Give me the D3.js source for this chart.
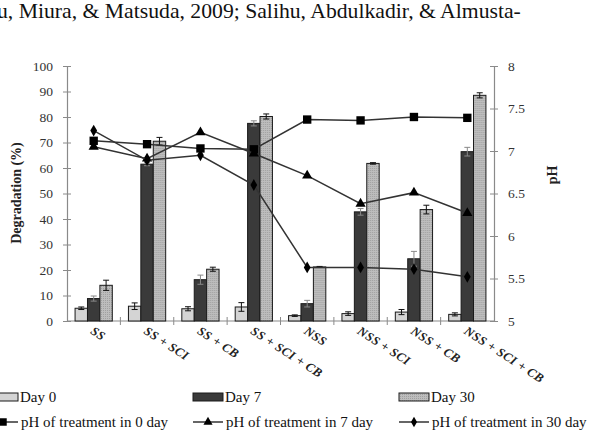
<!DOCTYPE html>
<html>
<head>
<meta charset="utf-8">
<script src="https://cdn.jsdelivr.net/npm/d3@7.9.0/dist/d3.min.js"></script>
<style>
  html, body { margin: 0; padding: 0; background: #fff; }
  svg { display: block; font-family: 'Liberation Serif', 'Times New Roman', serif; }
</style>
</head>
<body>
<svg id="chart" width="589" height="436"></svg>
<script>
// ====== DATA ======

const categories = ['SS', 'SS + SCI', 'SS + CB', 'SS + SCI + CB', 'NSS', 'NSS + SCI', 'NSS + CB', 'NSS + SCI + CB'];

// degradation (%) per day, with error
const day0 = [5.0, 5.8, 4.8, 5.5, 2.1, 2.9, 3.5, 2.6];
const day0Err = [0.5, 1.3, 0.8, 1.7, 0.3, 0.7, 1.0, 0.6];
const day7 = [8.8, 61.5, 16.2, 77.5, 6.8, 42.8, 24.4, 66.4];
const day7Err = [1.0, 0.6, 1.8, 1.0, 1.3, 1.3, 2.9, 1.7];
const day30 = [14.0, 70.5, 20.3, 80.2, 21.2, 61.8, 43.7, 88.5];
const day30Err = [2.0, 1.5, 0.8, 1.0, 0.2, 0.3, 1.7, 1.0];

// pH (right axis)
const ph0 = [7.12, 7.08, 7.03, 7.02, 7.37, 7.36, 7.40, 7.39];
const ph7 = [7.05, 6.91, 7.22, 6.97, 6.71, 6.38, 6.51, 6.27];
const ph30 = [7.24, 6.89, 6.95, 6.60, 5.63, 5.63, 5.61, 5.52];

const degTicks = [0, 10, 20, 30, 40, 50, 60, 70, 80, 90, 100];
const phTicks = [5, 5.5, 6, 6.5, 7, 7.5, 8];

// ====== LAYOUT ======

const svg = d3.select('#chart');
const plotLeft = 67, plotRight = 494, plotTop = 66, plotBottom = 321;
const axisColor = '#8a8a8a';

const x = d3.scaleBand().domain(categories).range([plotLeft, plotRight]);
const inner = d3.scaleBand().domain(['d0', 'd7', 'd30']).range([0, x.bandwidth()]).paddingOuter(0.65);
const y = d3.scaleLinear().domain([0, 100]).range([plotBottom, plotTop]);
const yR = d3.scaleLinear().domain([5, 8]).range([plotBottom, plotTop]);

const series = [
  { key: 'd0', label: 'Day 0', values: day0, err: day0Err, fill: '#d4d4d4' },
  { key: 'd7', label: 'Day 7', values: day7, err: day7Err, fill: '#3a3a3a' },
  { key: 'd30', label: 'Day 30', values: day30, err: day30Err, fill: '#b4b4b4' },
];

const phSeries = [
  { label: 'pH of treatment in 0 day', values: ph0, symbol: d3.symbolSquare, size: 70 },
  { label: 'pH of treatment in 7 day', values: ph7, symbol: d3.symbolTriangle, size: 45 },
  { label: 'pH of treatment in 30 day', values: ph30, symbol: d3.symbolDiamond, size: 40 },
];

// top text line (from the page the figure sits in)
svg.append('text')
  .attr('x', -3)
  .attr('y', 18)
  .attr('font-size', 21.7)
  .attr('fill', '#111')
  .text('u, Miura, & Matsuda, 2009; Salihu, Abdulkadir, & Almusta-');

// dotted texture for the Day 30 bars
const defs = svg.append('defs');
const pat = defs.append('pattern')
  .attr('id', 'dots')
  .attr('width', 2)
  .attr('height', 2)
  .attr('patternUnits', 'userSpaceOnUse');
pat.append('rect').attr('width', 2).attr('height', 2).attr('fill', '#bdbdbd');
pat.append('rect').attr('width', 1).attr('height', 1).attr('fill', '#a0a0a0');

// ====== AXES ======

const gLeft = svg.append('g')
  .attr('transform', `translate(${plotLeft},0)`)
  .call(d3.axisLeft(y).tickValues(degTicks).tickSize(4).tickPadding(10));

const gRight = svg.append('g')
  .attr('transform', `translate(${plotRight},0)`)
  .call(d3.axisRight(yR).tickValues(phTicks).tickSize(4).tickPadding(10).tickFormat(d3.format('')));

[gLeft, gRight].forEach((g) => {
  g.select('.domain').attr('stroke', axisColor).attr('stroke-width', 1.2);
  g.selectAll('.tick line').attr('stroke', axisColor).attr('x1', -4).attr('x2', 4);
  g.selectAll('.tick text')
    .attr('font-family', "'Liberation Serif', serif")
    .attr('font-size', 13.5)
    .attr('fill', '#333');
});

// x axis: baseline + ticks between categories
const gX = svg.append('g');
gX.append('line')
  .attr('x1', plotLeft).attr('x2', plotRight)
  .attr('y1', plotBottom).attr('y2', plotBottom)
  .attr('stroke', axisColor).attr('stroke-width', 1.2);

gX.selectAll('.xtick')
  .data(categories.slice(1))
  .join('line')
  .attr('class', 'xtick')
  .attr('x1', (d) => x(d)).attr('x2', (d) => x(d))
  .attr('y1', plotBottom - 4).attr('y2', plotBottom + 4)
  .attr('stroke', axisColor);

gX.selectAll('.xlabel')
  .data(categories)
  .join('text')
  .attr('class', 'xlabel')
  .attr('transform', (d) => `translate(${x(d) + x.bandwidth() / 2 - 4},${plotBottom + 12}) rotate(33)`)
  .attr('font-size', 12.5)
  .attr('letter-spacing', 0.4)
  .attr('font-weight', 'bold')
  .attr('font-style', 'italic')
  .attr('fill', '#222')
  .text((d) => d);

// axis titles
svg.append('text')
  .attr('transform', `translate(21,193) rotate(-90)`)
  .attr('text-anchor', 'middle')
  .attr('font-size', 14)
  .attr('font-weight', 'bold')
  .attr('fill', '#222')
  .text('Degradation (%)');

svg.append('text')
  .attr('transform', `translate(557,175) rotate(-90)`)
  .attr('text-anchor', 'middle')
  .attr('font-size', 14)
  .attr('font-weight', 'bold')
  .attr('fill', '#222')
  .text('pH');

// ====== BARS ======

const groups = svg.append('g')
  .selectAll('g')
  .data(categories)
  .join('g')
  .attr('transform', (d) => `translate(${x(d)},0)`);

series.forEach((s) => {
  groups.append('rect')
    .attr('x', inner(s.key))
    .attr('width', inner.bandwidth())
    .attr('y', (d, i) => y(s.values[i]))
    .attr('height', (d, i) => plotBottom - y(s.values[i]))
    .attr('fill', s.key === 'd30' ? 'url(#dots)' : s.fill)
    .attr('stroke', '#1a1a1a')
    .attr('stroke-width', 1);

  // error bars
  const cx = inner(s.key) + inner.bandwidth() / 2;
  const errColor = s.key === 'd7' ? '#888' : '#111';
  groups.append('line')
    .attr('x1', cx).attr('x2', cx)
    .attr('y1', (d, i) => y(s.values[i] - s.err[i]))
    .attr('y2', (d, i) => y(s.values[i] + s.err[i]))
    .attr('stroke', errColor);
  groups.append('line')
    .attr('x1', cx - 3).attr('x2', cx + 3)
    .attr('y1', (d, i) => y(s.values[i] + s.err[i]))
    .attr('y2', (d, i) => y(s.values[i] + s.err[i]))
    .attr('stroke', errColor);
  groups.append('line')
    .attr('x1', cx - 3).attr('x2', cx + 3)
    .attr('y1', (d, i) => y(s.values[i] - s.err[i]))
    .attr('y2', (d, i) => y(s.values[i] - s.err[i]))
    .attr('stroke', errColor);
});

// ====== pH LINES ======

const cxOf = (i) => x(categories[i]) + x.bandwidth() / 2;

phSeries.forEach((s) => {
  const line = d3.line()
    .x((d, i) => cxOf(i))
    .y((d) => yR(d));

  svg.append('path')
    .datum(s.values)
    .attr('d', line)
    .attr('fill', 'none')
    .attr('stroke', '#333')
    .attr('stroke-width', 1.5);

  svg.append('g')
    .selectAll('path')
    .data(s.values)
    .join('path')
    .attr('transform', (d, i) => `translate(${cxOf(i)},${yR(d)})`)
    .attr('d', d3.symbol(s.symbol, s.size))
    .attr('fill', '#000');
});

// ====== LEGEND ======

const legendCols = [-12, 193, 399];
const legend = svg.append('g')
  .attr('font-size', 15)
  .attr('fill', '#111');

series.forEach((s, i) => {
  const gx = legendCols[i];
  legend.append('rect')
    .attr('x', gx).attr('y', 393)
    .attr('width', 30).attr('height', 8)
    .attr('fill', s.key === 'd30' ? 'url(#dots)' : s.fill)
    .attr('stroke', '#1a1a1a');
  legend.append('text')
    .attr('x', gx + 32).attr('y', 402)
    .text(s.label);
});

phSeries.forEach((s, i) => {
  const gx = legendCols[i];
  legend.append('line')
    .attr('x1', gx).attr('x2', gx + 30)
    .attr('y1', 422).attr('y2', 422)
    .attr('stroke', '#333').attr('stroke-width', 1.5);
  legend.append('path')
    .attr('transform', `translate(${gx + 15},422)`)
    .attr('d', d3.symbol(s.symbol, s.size * 0.8))
    .attr('fill', '#000');
  legend.append('text')
    .attr('x', gx + 33).attr('y', 427)
    .text(s.label);
});
</script>
</body>
</html>
